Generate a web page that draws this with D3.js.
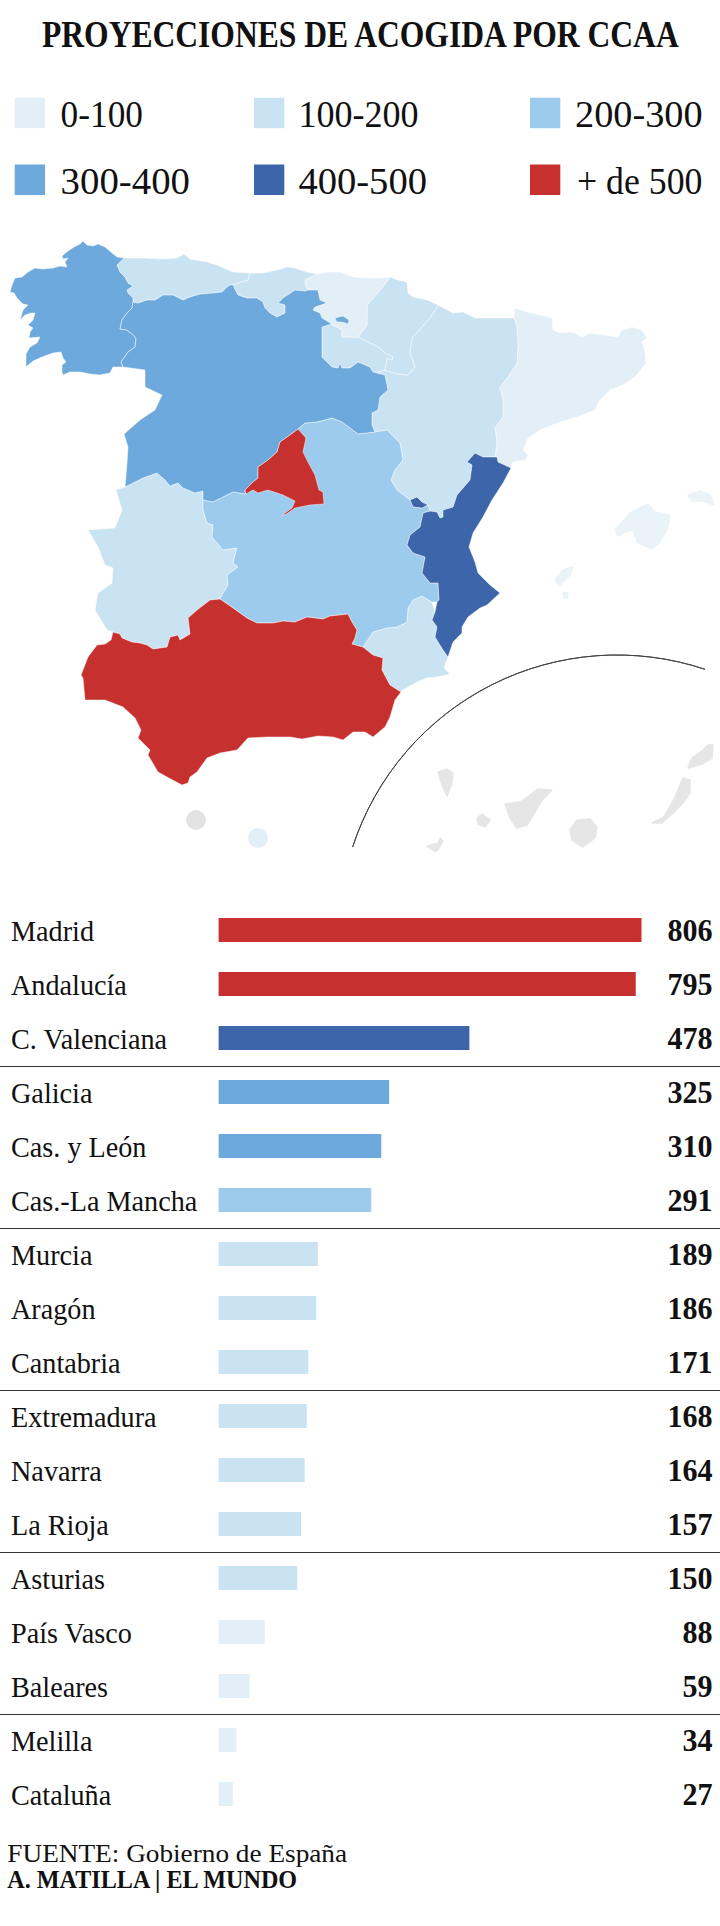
<!DOCTYPE html>
<html><head><meta charset="utf-8">
<script src="https://cdn.jsdelivr.net/npm/d3@7/dist/d3.min.js"></script>
<style>
html,body{margin:0;padding:0;background:#fff}
svg{display:block}
text{font-family:"Liberation Serif",serif;fill:#111}
</style></head><body>
<svg id="c" width="720" height="1926"></svg>
<script>
// ---------- data ----------
const titleText = "PROYECCIONES DE ACOGIDA POR CCAA";
const legendLabels = ["0-100","100-200","200-300","300-400","400-500","+ de 500"];
const thresholds = [100,200,300,400,500];
const palette = ["#e3eff6","#c9e3f3","#9ccbed","#6ea9dd","#3d65a9","#c6312f"];
const categories = ["Madrid","Andalucía","C. Valenciana","Galicia","Cas. y León","Cas.-La Mancha","Murcia","Aragón","Cantabria","Extremadura","Navarra","La Rioja","Asturias","País Vasco","Baleares","Melilla","Cataluña"];
const values = [806,795,478,325,310,291,189,186,171,168,164,157,150,88,59,34,27];
const sourceText = "FUENTE: Gobierno de España";
const creditText = "A. MATILLA | EL MUNDO";

// traced outlines (map units)
const galicia = [[124,28],[117,27],[112,23],[105,17],[98,14],[93,16],[87,15],[83,11],[80,14],[74,17],[68,21],[62,26],[63,29],[68,28],[65,32],[67,37],[60,36],[53,38],[43,39],[35,38],[28,42],[22,47],[15,48],[12,55],[10,62],[14,63],[17,68],[23,74],[28,75],[23,80],[20,90],[25,85],[31,83],[35,83],[33,90],[28,95],[33,98],[30,102],[29,108],[40,107],[37,113],[30,117],[26,124],[26,137],[33,131],[42,127],[53,123],[61,122],[63,128],[66,132],[62,135],[62,142],[63,145],[70,142],[80,142],[90,144],[100,145],[110,143],[113,137],[120,137],[123,137],[121,132],[128,122],[135,117],[136,108],[132,104],[127,100],[120,99],[122,90],[127,83],[132,78],[133,72],[133,68],[128,63],[127,60],[133,56],[128,53],[125,47],[120,42],[117,35]];
const asturias = [[124,28],[143,28],[163,29],[177,28],[184,24],[190,29],[207,32],[217,35],[233,42],[250,43],[248,50],[238,53],[233,55],[230,55],[227,57],[222,62],[213,63],[200,64],[190,67],[183,70],[173,65],[163,65],[155,70],[147,70],[138,73],[133,72],[133,68],[128,63],[127,60],[133,56],[128,53],[125,47],[120,42],[117,35]];
const cantabria = [[250,43],[263,43],[277,40],[287,37],[295,38],[307,42],[317,44],[305,50],[305,53],[308,60],[305,61],[295,60],[283,68],[278,73],[285,75],[285,83],[277,87],[270,83],[265,78],[263,72],[257,68],[247,68],[238,65],[233,55],[238,53],[248,50]];
const paisVasco = [[317,44],[328,42],[340,42],[353,47],[367,48],[380,48],[390,47],[378,63],[367,75],[367,95],[358,107],[342,107],[342,100],[333,95],[332,94],[322,88],[320,83],[313,80],[315,77],[327,73],[320,70],[318,60],[308,60],[305,53],[305,50]];
const trevino = [[335,88],[343,86],[349,90],[348,94],[342,92],[337,92]];
const navarra = [[390,47],[398,50],[407,52],[408,63],[413,67],[427,70],[438,75],[437,77],[430,88],[422,97],[412,108],[410,123],[415,137],[408,145],[398,144],[387,141],[385,140],[387,128],[392,130],[393,127],[385,123],[378,117],[370,113],[358,107],[367,95],[367,75],[378,63]];
const rioja = [[322,97],[332,94],[333,95],[342,100],[342,107],[358,107],[370,113],[378,117],[385,123],[393,127],[392,130],[387,128],[385,140],[377,143],[373,142],[370,137],[358,132],[350,138],[342,138],[340,133],[338,138],[332,137],[322,127]];
const aragon = [[438,75],[453,83],[463,82],[475,88],[488,88],[497,88],[514,88],[517,97],[518,115],[517,133],[508,147],[500,157],[503,170],[503,187],[495,198],[497,213],[495,227],[483,227],[475,223],[467,232],[472,235],[470,250],[457,265],[453,277],[443,280],[443,287],[440,288],[437,282],[430,281],[428,275],[422,272],[417,267],[410,270],[397,260],[391,250],[395,240],[403,230],[400,213],[387,200],[375,202],[372,195],[372,183],[378,180],[380,167],[388,160],[385,145],[377,143],[385,140],[387,141],[398,144],[408,145],[415,137],[410,123],[412,108],[422,97],[430,88],[437,77]];
const cataluna = [[515,78],[527,82],[540,85],[552,88],[553,100],[560,103],[573,102],[582,107],[590,103],[603,105],[618,107],[622,100],[632,97],[642,100],[647,108],[642,112],[645,122],[646,133],[635,147],[623,155],[610,160],[600,170],[595,180],[577,187],[560,192],[540,200],[528,208],[523,220],[528,225],[525,230],[513,232],[510,239],[500,235],[495,227],[497,213],[495,198],[503,187],[503,170],[500,157],[508,147],[517,133],[518,115],[517,97],[514,88]];
const valencia = [[475,223],[483,227],[497,227],[498,232],[511,238],[503,253],[492,270],[483,287],[473,303],[469,317],[475,332],[478,343],[490,355],[500,363],[487,375],[480,378],[468,387],[462,397],[462,403],[453,412],[448,427],[443,420],[435,407],[437,397],[432,390],[435,382],[437,372],[439,370],[438,353],[430,353],[422,343],[425,327],[413,323],[407,315],[410,305],[420,297],[423,283],[430,281],[437,282],[440,288],[443,287],[443,280],[453,277],[457,265],[470,250],[472,235],[467,232]];
const ademuz = [[410,270],[417,267],[422,272],[428,275],[422,278],[413,277]];
const murcia = [[422,366],[432,372],[435,382],[432,390],[437,397],[435,407],[443,420],[448,427],[444,438],[450,444],[437,447],[427,448],[417,452],[403,460],[401,462],[390,455],[382,440],[383,428],[373,425],[363,417],[373,402],[387,398],[397,397],[407,392],[408,378],[413,370]];
const andalucia = [[81,445],[88,427],[97,415],[105,414],[111,410],[113,402],[120,404],[122,408],[132,412],[140,413],[147,415],[153,419],[167,417],[170,407],[178,405],[180,410],[190,404],[188,388],[197,380],[210,370],[220,369],[233,378],[247,388],[257,393],[273,393],[283,391],[295,392],[307,387],[323,389],[330,386],[348,384],[352,392],[357,400],[355,408],[352,414],[363,417],[373,425],[383,428],[382,440],[390,455],[401,462],[395,470],[390,487],[385,497],[373,507],[365,502],[353,502],[343,510],[333,507],[318,506],[302,509],[290,507],[267,507],[248,508],[237,520],[220,523],[207,528],[197,542],[190,547],[188,553],[182,555],[167,547],[158,542],[148,525],[150,520],[138,508],[141,500],[135,488],[123,477],[105,470],[85,470],[83,448]];
const extremadura = [[116,260],[125,257],[143,248],[157,243],[165,250],[170,256],[178,253],[183,258],[195,263],[203,261],[203,280],[207,293],[213,295],[212,307],[223,320],[237,318],[233,333],[238,337],[227,345],[228,355],[222,365],[220,369],[210,370],[197,380],[188,388],[190,404],[180,410],[178,405],[170,407],[167,417],[153,419],[147,415],[140,413],[132,412],[122,408],[120,404],[113,402],[107,400],[95,380],[98,363],[112,353],[113,338],[105,335],[98,317],[88,300],[115,298],[122,280]];
const castillaMancha = [[298,199],[305,193],[317,192],[332,188],[342,192],[350,198],[358,204],[375,202],[387,200],[400,213],[403,230],[395,240],[391,250],[397,260],[410,270],[413,277],[422,278],[428,275],[430,281],[423,283],[420,297],[410,305],[407,315],[413,323],[425,327],[422,343],[430,353],[438,353],[439,370],[437,372],[432,372],[422,366],[413,370],[408,378],[407,392],[397,397],[387,398],[373,402],[363,417],[352,414],[355,408],[357,400],[352,392],[348,384],[330,386],[323,389],[307,387],[295,392],[283,391],[273,393],[257,393],[247,388],[233,378],[220,369],[222,365],[228,355],[227,345],[238,337],[233,333],[237,318],[223,320],[212,307],[213,295],[207,293],[203,280],[203,270],[213,272],[223,267],[233,262],[245,264],[245,260],[253,252],[258,248],[258,237],[268,230],[277,222],[280,212],[290,205]];
const castillaLeon = [[133,72],[138,73],[147,70],[155,70],[163,65],[173,65],[183,70],[190,67],[200,64],[213,63],[222,62],[227,57],[230,55],[233,55],[238,65],[247,68],[257,68],[263,72],[265,78],[270,83],[277,87],[285,83],[285,75],[278,73],[283,68],[295,60],[305,61],[308,60],[318,60],[320,70],[327,73],[315,77],[313,80],[320,83],[322,88],[332,94],[322,97],[322,127],[332,137],[338,138],[340,133],[342,138],[350,138],[358,132],[370,137],[373,142],[377,143],[385,145],[388,160],[380,167],[378,180],[372,183],[372,195],[375,202],[358,204],[350,198],[342,192],[332,188],[317,192],[305,193],[298,199],[290,205],[280,212],[277,222],[268,230],[258,237],[258,248],[253,252],[245,260],[245,264],[233,262],[223,267],[213,272],[203,270],[203,261],[195,263],[183,258],[178,253],[170,256],[165,250],[157,243],[143,248],[125,257],[127,233],[128,217],[124,204],[132,197],[140,190],[155,180],[162,165],[145,157],[145,140],[123,137],[121,132],[128,122],[135,117],[136,108],[132,104],[127,100],[120,99],[122,90],[127,83],[132,78]];
const madrid = [[298,199],[306,208],[303,222],[308,232],[315,245],[319,260],[323,262],[324,274],[310,275],[295,278],[288,283],[282,286],[285,283],[292,278],[295,271],[283,265],[268,260],[258,263],[253,260],[246,264],[245,260],[253,252],[258,248],[258,237],[268,230],[277,222],[280,212],[290,205]];
const mallorca = [[615,300],[630,283],[648,274],[655,282],[670,285],[668,297],[660,312],[652,319],[637,312],[633,300],[625,302],[618,306]];
const menorca = [[688,265],[700,261],[710,265],[714,275],[703,271],[692,271]];
const ibiza = [[555,350],[563,340],[573,337],[570,345],[560,355]];
const formentera = [[563,363],[568,363],[567,368],[564,368]];
const laPalma = [[438,542],[447,539],[453,543],[452,553],[447,566],[442,555]];
const gomera = [[477,588],[482,584],[490,590],[485,597],[478,594]];
const hierro = [[427,616],[438,613],[440,608],[443,611],[438,620],[435,621]];
const tenerife = [[505,574],[520,572],[530,565],[538,559],[552,560],[542,570],[535,582],[527,595],[517,598],[510,588]];
const granCanaria = [[570,600],[577,590],[590,589],[597,597],[595,608],[583,617],[572,610]];
const fuerteventura = [[683,548],[690,550],[690,563],[683,573],[673,583],[662,593],[652,593],[663,588],[668,580],[675,567],[680,555]];
const lanzarote = [[688,538],[692,528],[703,520],[708,515],[713,515],[712,528],[702,534],[692,537]];
const ceutaPoint = [196,590];
const melillaPoint = [258,608];

// ---------- scales ----------
const value = new Map(categories.map((c,i)=>[c,values[i]]));
const color = d3.scaleThreshold().domain(thresholds).range(palette);
const x = d3.scaleLinear().domain([0,806]).range([218.6,641.5]);
const y = d3.scaleBand().domain(categories).range([918,1806]).paddingInner(30/54);
const svg = d3.select("#c");

// places a text at (px,py) and squeezes it horizontally to the wanted width
function fitted(str,px,py,size,weight,width){
  const t = svg.append("text").attr("font-size",size).attr("font-weight",weight).text(str);
  const k = width/t.node().getComputedTextLength();
  t.attr("transform",`translate(${px},${py}) scale(${k},1)`);
  return t;
}

// title
fitted(titleText,42,47,38,700,637);

// legend
const legX = [[14.7,60.6],[254,298.4],[530,575]];
const legY = [97.7,164.5];
const legBase = [126.7,193.5];
const legW = [82.4,120.3,127.6,129.5,128.6,125.5];
legendLabels.forEach((l,i)=>{
  const col=i%3,row=Math.floor(i/3);
  svg.append("rect").attr("x",legX[col][0]).attr("y",legY[row]).attr("width",30.3).attr("height",30.5).attr("fill",palette[i]);
  fitted(l,l.startsWith("+")?577:legX[col][1],legBase[row],38,400,legW[i]);
});

// map
const projection = d3.geoIdentity().translate([0,230]);
const path = d3.geoPath(projection).pointRadius(10);
const poly = (rings)=>({type:"MultiPolygon",coordinates:rings.map(r=>[r.concat([r[0]])])});
const regions = [
  ["Cataluña",[cataluna]],["Aragón",[aragon]],["Navarra",[navarra]],["La Rioja",[rioja]],
  ["País Vasco",[paisVasco]],["Cantabria",[cantabria]],["Asturias",[asturias]],
  ["Extremadura",[extremadura]],["Murcia",[murcia]],["Cas.-La Mancha",[castillaMancha]],
  ["Galicia",[galicia]],["Cas. y León",[castillaLeon,trevino]],["C. Valenciana",[valencia,ademuz]],
  ["Andalucía",[andalucia]],["Madrid",[madrid]]
];
const mapG = svg.append("g");
mapG.selectAll("path.reg").data(regions).join("path").attr("class","reg")
  .attr("d",d=>path(poly(d[1]))).attr("fill",d=>color(value.get(d[0])))
  .attr("stroke","#fff").attr("stroke-opacity",0.8).attr("stroke-width",0.6).attr("stroke-linejoin","round");
mapG.append("path").attr("d",path(poly([mallorca,menorca,ibiza,formentera])))
  .attr("fill",color(value.get("Baleares"))).attr("stroke",color(value.get("Baleares")))
  .attr("stroke-width",1.5).attr("stroke-linejoin","round").attr("opacity",0.75);
mapG.append("path").attr("d",path(poly([laPalma,gomera,hierro,tenerife,granCanaria,fuerteventura,lanzarote])))
  .attr("fill","#e6e6e6").attr("stroke","#e6e6e6").attr("stroke-width",1.5).attr("stroke-linejoin","round");
mapG.append("path").attr("d",path({type:"Point",coordinates:ceutaPoint})).attr("fill","#e3e3e3");
mapG.append("path").attr("d",path({type:"Point",coordinates:melillaPoint})).attr("fill",color(value.get("Melilla")));

// Canary inset arc
svg.append("path").attr("transform","translate(617,933)")
  .attr("d",d3.arc()({innerRadius:278,outerRadius:278,startAngle:-1.256,endAngle:0.322}))
  .attr("fill","none").attr("stroke","#444").attr("stroke-width",1);

// bars
const rows = svg.append("g").selectAll("g").data(categories).join("g");
rows.append("rect").attr("x",x(0)).attr("y",d=>y(d)).attr("height",y.bandwidth())
  .attr("width",d=>x(value.get(d))-x(0)).attr("fill",d=>color(value.get(d)));
rows.append("text").attr("transform",d=>`translate(11,${y(d)+22.7}) scale(0.94,1)`).attr("font-size",30).text(d=>d);
rows.append("text").attr("transform",d=>`translate(712.6,${y(d)+22.7}) scale(0.97,1)`).attr("font-size",31).attr("font-weight",700)
  .attr("text-anchor","end").text(d=>value.get(d));

// dividers every third row
svg.append("g").selectAll("line").data(categories.filter((d,i)=>i%3===2&&i<16)).join("line")
  .attr("x1",0).attr("x2",720)
  .attr("y1",d=>Math.round(y(d)+y.bandwidth()+16)+0.5).attr("y2",d=>Math.round(y(d)+y.bandwidth()+16)+0.5)
  .attr("stroke","#333").attr("stroke-width",1);

// footer
fitted(sourceText,7.3,1861.5,25,400,340);
fitted(creditText,7.3,1888,26,700,290);
</script></body></html>
